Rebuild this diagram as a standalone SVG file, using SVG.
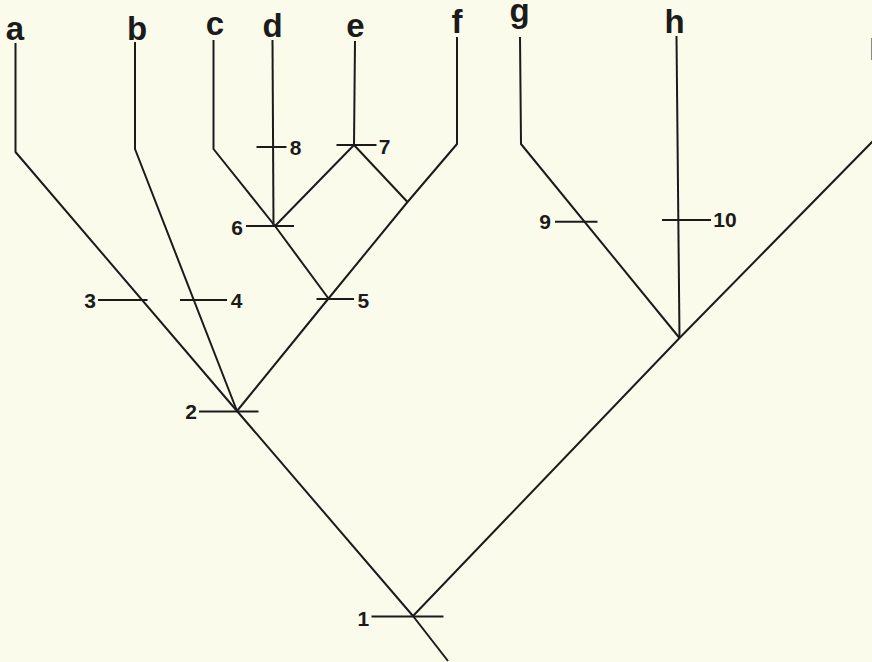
<svg xmlns="http://www.w3.org/2000/svg" width="872" height="662" viewBox="0 0 872 662">
  <style>
    .bg { fill: #fafbea; }
    .br { fill: none; stroke: #1b1b1b; stroke-width: 2; stroke-linejoin: round; stroke-linecap: butt; }
    .tk { stroke: #1b1b1b; stroke-width: 2; }
    .tip { font-family: "Liberation Sans", Arial, sans-serif; font-weight: bold; font-size: 33px; fill: #1b1b1b; text-anchor: middle; }
    .num { font-family: "Liberation Sans", Arial, sans-serif; font-weight: bold; font-size: 21px; fill: #1b1b1b; text-anchor: middle; }
  </style>
  <rect class="bg" x="0" y="0" width="872" height="662"/>

  <!-- branches of the cladogram -->
  <g id="connectors">
    <!-- a: through node 2 and node 1 down to the root -->
    <polyline class="br" points="15.5,43 15.5,152 237,411 413,616 448,661"/>
    <!-- b -->
    <polyline class="br" points="135,42 135,149 237,411"/>
    <!-- c through node 6 to node 5 -->
    <polyline class="br" points="213.5,40 213.5,149 275,226 328.5,298.5"/>
    <!-- d -->
    <polyline class="br" points="272.5,40 273.5,226"/>
    <!-- e -->
    <polyline class="br" points="355,41 354,145"/>
    <!-- node 7 to node 6 -->
    <polyline class="br" points="354,145 275,226"/>
    <!-- node 7 to f branch -->
    <polyline class="br" points="354,145 407.5,202"/>
    <!-- f through node 5 to node 2 -->
    <polyline class="br" points="457,37 457,144 407.5,202 328.5,298.5 237,411"/>
    <!-- g -->
    <polyline class="br" points="520,37 521,144 679.5,338"/>
    <!-- h -->
    <polyline class="br" points="676.5,36 679.5,338"/>
    <!-- i through the g/h node to node 1 -->
    <polyline class="br" points="873,141 679.5,338 413,616"/>
    <line x1="871.6" y1="38" x2="871.6" y2="60" stroke="#8a8a80" stroke-width="1.2"/>
  </g>

  <!-- terminal taxa -->
  <g id="tip-a"><text class="tip" x="15" y="40">a</text></g>
  <g id="tip-b"><text class="tip" x="137" y="40">b</text></g>
  <g id="tip-c"><text class="tip" x="215" y="35">c</text></g>
  <g id="tip-d"><text class="tip" x="272.5" y="37">d</text></g>
  <g id="tip-e"><text class="tip" x="355.5" y="37">e</text></g>
  <g id="tip-f"><text class="tip" x="457" y="33">f</text></g>
  <g id="tip-g"><text class="tip" x="519.5" y="22">g</text></g>
  <g id="tip-h"><text class="tip" x="674.5" y="33">h</text></g>
  <g id="tip-i"><text class="tip" x="875" y="37">i</text></g>

  <!-- character state changes (ticks) -->
  <g id="char-1"><line class="tk" x1="371.5" y1="616.5" x2="443.5" y2="616.5"/><text class="num" x="357.5" y="625.5" style="text-anchor:start">1</text></g>
  <g id="char-2"><line class="tk" x1="199" y1="411.5" x2="258.5" y2="411.5"/><text class="num" x="191" y="419">2</text></g>
  <g id="char-3"><line class="tk" x1="98" y1="300" x2="147.5" y2="300"/><text class="num" x="90" y="308">3</text></g>
  <g id="char-4"><line class="tk" x1="180" y1="300" x2="227" y2="300"/><text class="num" x="236.7" y="308">4</text></g>
  <g id="char-5"><line class="tk" x1="316.5" y1="299" x2="354" y2="299"/><text class="num" x="363.3" y="308">5</text></g>
  <g id="char-6"><line class="tk" x1="246" y1="226" x2="294" y2="226"/><text class="num" x="237" y="235">6</text></g>
  <g id="char-7"><line class="tk" x1="336.5" y1="145" x2="376.5" y2="145"/><text class="num" x="384.5" y="154">7</text></g>
  <g id="char-8"><line class="tk" x1="256.5" y1="147" x2="286.5" y2="147"/><text class="num" x="295.7" y="155">8</text></g>
  <g id="char-9"><line class="tk" x1="555" y1="221.7" x2="597.5" y2="221.7"/><text class="num" x="545" y="229">9</text></g>
  <g id="char-10"><line class="tk" x1="662" y1="220" x2="711" y2="220"/><text class="num" x="725" y="227">10</text></g>
</svg>
